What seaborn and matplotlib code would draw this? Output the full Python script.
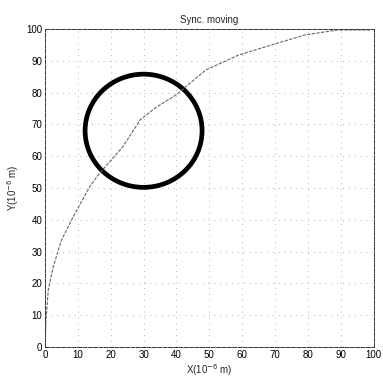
import matplotlib
matplotlib.use("Agg")
import matplotlib.pyplot as plt
import seaborn as sns
import pandas as pd
from matplotlib.patches import Circle

# Trajectory data (units of 10^-6 m)
traj_x = [0, 0.3, 1.0, 2.5, 5.0, 8.6, 13.6, 16.1, 23.7, 29.0, 34.0, 39.8, 48.9, 58.9, 69.0, 79.0, 89.0, 99.0]
traj_y = [0, 8.5, 18.0, 25.2, 33.6, 41.0, 50.4, 54.0, 63.0, 71.5, 75.5, 79.2, 87.1, 91.8, 95.0, 98.1, 99.7, 99.7]

# Obstacle circle
circle_center = (30, 68)
circle_radius = 17.8

x_ticks = [0, 10, 20, 30, 40, 50, 60, 70, 80, 90, 100]
y_ticks = [0, 10, 20, 30, 40, 50, 60, 70, 80, 90, 100]

sns.set_style("white")
plt.rcParams['font.family'] = ['Liberation Sans', 'DejaVu Sans']

fig = plt.figure(figsize=(3.83, 3.80), dpi=100)
ax = fig.add_axes([0.1175, 0.0868, 0.858, 0.8369])

df = pd.DataFrame({"x": traj_x, "y": traj_y})
sns.lineplot(data=df, x="x", y="y", sort=False, ax=ax, color="#666666",
             linewidth=0.8, linestyle=(0, (3, 1.2)), estimator=None)

ax.add_patch(Circle(circle_center, circle_radius, fill=False, edgecolor="black", linewidth=3.4))

ax.set_xlim(0, 100)
ax.set_ylim(0, 100)
ax.set_xticks(x_ticks)
ax.set_yticks(y_ticks)
ax.tick_params(labelsize=7, length=2, direction="in", pad=2, colors="black")
ax.grid(True, color="#999999", linestyle=(0, (1, 6)), linewidth=0.6)

for s in ax.spines.values():
    s.set_color("#333333")
    s.set_linewidth(0.7)
    s.set_linestyle((0, (4, 1.5)))

ax.set_title("Sync. moving", fontsize=7, pad=4)
ax.set_xlabel("X(10$^{-6}$ m)", fontsize=7, labelpad=2)
ax.set_ylabel("Y(10$^{-6}$ m)", fontsize=7, labelpad=4)

fig.savefig("out.png", dpi=100)
